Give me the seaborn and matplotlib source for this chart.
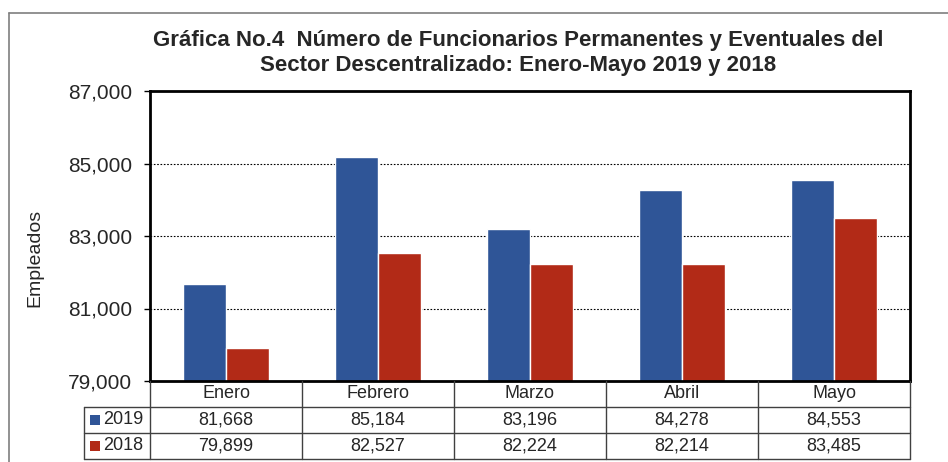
import pandas as pd
import seaborn as sns
import matplotlib.pyplot as plt
from matplotlib.lines import Line2D
from matplotlib.patches import Rectangle

meses = ["Enero", "Febrero", "Marzo", "Abril", "Mayo"]
anios = ["2019", "2018"]
valores_2019 = [81668, 85184, 83196, 84278, 84553]
valores_2018 = [79899, 82527, 82224, 82214, 83485]
colores = ["#2F5597", "#B22A17"]
yticks = [79000, 81000, 83000, 85000, 87000]

df = pd.DataFrame({
    "mes": meses * 2,
    "anio": [anios[0]] * 5 + [anios[1]] * 5,
    "valor": valores_2019 + valores_2018,
})

sns.set_style("white")
plt.rcParams["font.family"] = ["Liberation Sans", "DejaVu Sans"]

W, H = 948, 462
fig = plt.figure(figsize=(W / 100, H / 100), dpi=100)

def fx(px):
    return px / W

def fy(py):
    return 1 - py / H

# plot area in pixels: x 150..910, y 91..381
ax = fig.add_axes([fx(150), fy(381), fx(910) - fx(150), fy(91) - fy(381)])
sns.barplot(data=df, x="mes", y="valor", hue="anio", palette=colores,
            width=0.57, saturation=1, ax=ax, legend=False)
ax.set_ylim(79000, 87000)
ax.set_xlim(-0.5, 4.5)
ax.set_yticks(yticks)
ax.set_yticklabels([f"{v:,}" for v in yticks], fontsize=15)
ax.set_xticks([])
ax.set_xlabel("")
ax.set_ylabel("")
fig.text(fx(35), fy(258), "Empleados", rotation=90, ha="center", va="center", fontsize=14)
ax.tick_params(axis="y", direction="out", length=4, width=1, color="black", left=True, pad=9)
for yv in yticks[1:-1]:
    ax.axhline(yv, color="black", linestyle=(0, (1.5, 1.5)), linewidth=0.8, zorder=0)
for s in ax.spines.values():
    s.set_visible(True)
    s.set_color("black")
    s.set_linewidth(2)

# title
fig.text(fx(518), fy(53), "Gráfica No.4  Número de Funcionarios Permanentes y Eventuales del\n"
         "Sector Descentralizado: Enero-Mayo 2019 y 2018",
         ha="center", va="center", fontsize=16, fontweight="bold",
         linespacing=1.3)

# outer chart border (top and left)
fig.add_artist(Line2D([fx(9), fx(948)], [fy(13), fy(13)], color="#7f7f7f", lw=1.2))
fig.add_artist(Line2D([fx(9), fx(9)], [fy(13), fy(462)], color="#7f7f7f", lw=1.2))

# data table below the plot
col_x = [150, 302, 454, 606, 758, 910]
row_y = [381, 407, 433, 459]
lc = "#404040"
for x in col_x:
    fig.add_artist(Line2D([fx(x), fx(x)], [fy(381), fy(459)], color=lc, lw=1))
fig.add_artist(Line2D([fx(84), fx(84)], [fy(407), fy(459)], color=lc, lw=1))
for y in row_y[1:]:
    fig.add_artist(Line2D([fx(84), fx(910)], [fy(y), fy(y)], color=lc, lw=1))

fs = 13
for i, mes in enumerate(meses):
    cx = (col_x[i] + col_x[i + 1]) / 2
    fig.text(fx(cx), fy(394), mes, ha="center", va="center", fontsize=fs)
    fig.text(fx(cx), fy(420), f"{valores_2019[i]:,}", ha="center", va="center", fontsize=fs)
    fig.text(fx(cx), fy(446), f"{valores_2018[i]:,}", ha="center", va="center", fontsize=fs)

for j, (anio, c) in enumerate(zip(anios, colores)):
    yc = (row_y[j + 1] + row_y[j + 2]) / 2
    fig.add_artist(Rectangle((fx(90), fy(yc + 5)), fx(10), fy(yc - 5) - fy(yc + 5),
                             facecolor=c, edgecolor="none"))
    fig.text(fx(103), fy(yc), anio, ha="left", va="center", fontsize=fs)

fig.savefig("out.png", dpi=100)
